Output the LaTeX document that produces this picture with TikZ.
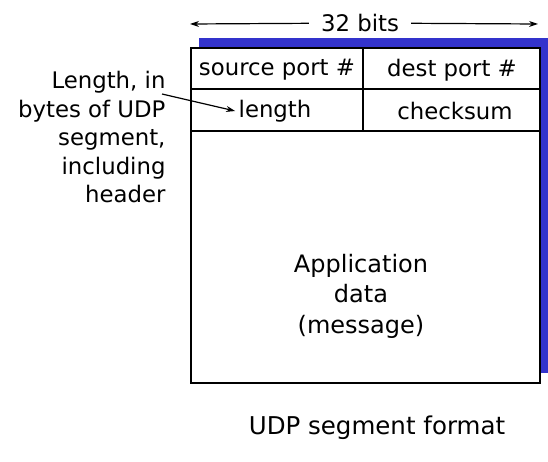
\documentclass[tikz,border=0pt]{standalone}
\usepackage{fontspec}
\usetikzlibrary{arrows.meta}
\setmainfont{DejaVu Sans}
\definecolor{shadowblue}{RGB}{51,51,204}
\tikzset{
  txt/.style={font=\fontsize{22.8}{28.5}\selectfont},
  frame/.style={line width=2pt},
  pointer/.style={-{Stealth[length=9pt,width=6pt]},line width=1.2pt},
}
\begin{document}
\begin{tikzpicture}[x=1pt,y=-1pt]
  \useasboundingbox (0,0) rectangle (548,461);
  % segment box with its blue shadow
  \fill[shadowblue] (199,38) rectangle (548,373);
  \filldraw[frame,fill=white] (191,48) rectangle (540,383);
  \draw[frame] (191,89)--(540,89);
  \draw[frame] (191,131)--(540,131);
  \draw[frame] (363,48)--(363,131);
  % fields
  \node[txt] (srcport) at (277,70) {source port \#};
  \node[txt] (dstport) at (452,70) {dest port \#};
  \node[txt] (lenlabel) at (275,111) {length};
  \node[txt] (chksum) at (455,111) {checksum};
  \node[txt,align=center,font=\fontsize{24}{30.5}\selectfont] (appdata) at (361,296) {Application\\data\\(message)};
  % width
  \node[txt,inner xsep=12pt] (bits) at (360,23) {32 bits};
  \coordinate (bitsl) at (190,24);
  \coordinate (bitsr) at (538,24);
  \draw[pointer] (bits) -- (bitsl);
  \draw[pointer] (bits) -- (bitsr);
  % note on length
  \node[txt,align=right,anchor=east] (lennote) at (169,137) {Length, in\\bytes of UDP\\segment,\\including\\header};
  \coordinate (lenfrom) at (162,94);
  \draw[pointer] (lenfrom) -- (lenlabel.west);
  \node[txt,font=\fontsize{24.5}{28}\selectfont] (caption) at (377,428) {UDP segment format};
\end{tikzpicture}
\end{document}
